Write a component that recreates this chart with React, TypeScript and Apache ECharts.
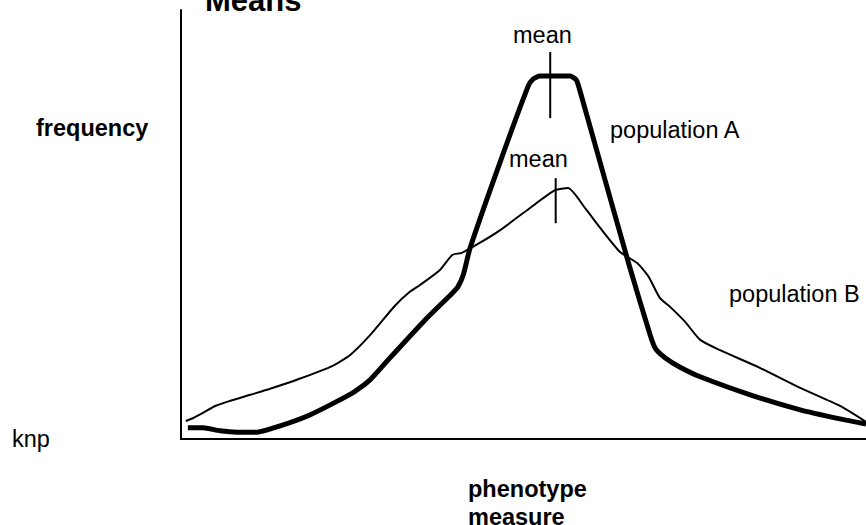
import React, { useEffect, useRef } from "react";
import * as echarts from "echarts";

// Phenotype measure (x, 0-100) vs frequency (y, 0-100)
const populationA: [number, number][] = [
  [1.0, 2.6], [3.2, 2.6], [5.7, 1.9], [8.2, 1.6], [11.1, 1.6], [14.0, 2.8],
  [18.8, 5.6], [25.0, 10.7], [27.6, 13.8], [30.5, 18.9], [35.6, 27.7],
  [39.6, 34.0], [40.4, 35.4], [41.2, 38.2], [42.2, 44.5], [46.6, 64.6],
  [50.7, 82.3], [51.4, 83.9], [52.4, 84.6], [56.8, 84.6], [57.7, 83.7],
  [58.2, 81.4], [61.9, 60.4], [65.5, 40.1], [68.5, 24.2], [69.3, 21.0],
  [70.7, 18.9], [72.8, 16.8], [75.8, 14.5], [83.1, 10.3], [90.4, 6.8],
  [96.2, 4.7], [100, 3.5],
];

const populationB: [number, number][] = [
  [0.7, 4.2], [1.8, 4.9], [3.2, 6.1], [5.0, 7.7], [7.2, 8.9], [10.1, 10.3],
  [13.0, 11.7], [16.9, 13.8], [21.8, 16.8], [24.7, 19.6], [27.6, 24.2],
  [31.2, 31.0], [33.4, 34.3], [34.9, 35.9], [37.8, 39.4], [39.6, 42.9],
  [41.0, 43.4], [43.6, 45.7], [46.6, 48.7], [50.9, 53.8], [54.6, 58.0],
  [56.5, 58.5], [59.0, 53.8], [61.2, 49.2], [64.1, 43.6], [66.6, 41.0],
  [68.2, 38.0], [69.9, 32.9], [71.4, 30.8], [73.6, 27.3], [75.8, 23.1],
  [78.7, 20.7], [84.5, 16.6], [90.4, 11.9], [96.2, 7.7], [100, 4.0],
];

// mean markers: x position, bottom and top of the tick
const meanA = { x: 53.9, y0: 74.8, y1: 90.2 };
const meanB = { x: 54.7, y0: 50.3, y1: 60.8 };

const titleText = "Means";
const yLabel = "frequency";
const xLabelLines = ["phenotype", "measure"];
const seriesNames = ["population A", "population B"];
const meanLabel = "mean";
const creditText = "knp";

const FONT = "'Liberation Sans', Arial, Helvetica, sans-serif";

export default function App() {
  const ref = useRef<HTMLDivElement>(null);

  useEffect(() => {
    document.body.style.margin = "0";
    if (!ref.current) return;
    const chart = echarts.init(ref.current, undefined, { renderer: "svg" });

    const txt = (
      text: string,
      x: number,
      baseline: number,
      fs: number,
      bold = false
    ) => ({
      type: "text",
      x,
      y: baseline - 0.35 * fs,
      silent: true,
      style: {
        text,
        fill: "#000",
        fontSize: fs,
        fontWeight: bold ? "bold" : "normal",
        fontFamily: FONT,
        textAlign: "left",
        textVerticalAlign: "middle",
      },
    });

    chart.setOption({
      animation: false,
      backgroundColor: "#fff",
      grid: { left: 181, right: 0, top: 10, bottom: 86 },
      xAxis: {
        type: "value",
        min: 0,
        max: 100,
        axisLine: { show: true, onZero: false, lineStyle: { color: "#000", width: 2 } },
        axisTick: { show: false },
        axisLabel: { show: false },
        splitLine: { show: false },
      },
      yAxis: {
        type: "value",
        min: 0,
        max: 100,
        axisLine: { show: true, onZero: false, lineStyle: { color: "#000", width: 2 } },
        axisTick: { show: false },
        axisLabel: { show: false },
        splitLine: { show: false },
      },
      series: [
        {
          name: seriesNames[0],
          type: "line",
          data: populationA,
          symbol: "none",
          smooth: 0.2,
          lineStyle: { color: "#000", width: 5 },
        },
        {
          name: seriesNames[1],
          type: "line",
          data: populationB,
          symbol: "none",
          smooth: 0.2,
          lineStyle: { color: "#000", width: 2 },
        },
        {
          type: "line",
          data: [[meanA.x, meanA.y0], [meanA.x, meanA.y1]],
          symbol: "none",
          lineStyle: { color: "#000", width: 2 },
        },
        {
          type: "line",
          data: [[meanB.x, meanB.y0], [meanB.x, meanB.y1]],
          symbol: "none",
          lineStyle: { color: "#000", width: 2 },
        },
      ],
      graphic: [
        txt(titleText, 205, 11, 31, true),
        txt(yLabel, 36, 136, 23.5, true),
        txt(creditText, 12, 447, 23.5),
        txt(meanLabel, 513, 43, 23.5),
        txt(meanLabel, 509, 167, 23.5),
        txt(seriesNames[0], 610, 138, 23.5),
        txt(seriesNames[1], 729, 302, 23.5),
        txt(xLabelLines[0], 468, 497, 23.5, true),
        txt(xLabelLines[1], 468, 525, 23.5, true),
      ],
    });

    return () => chart.dispose();
  }, []);

  return <div ref={ref} style={{ width: 866, height: 525 }} />;
}
